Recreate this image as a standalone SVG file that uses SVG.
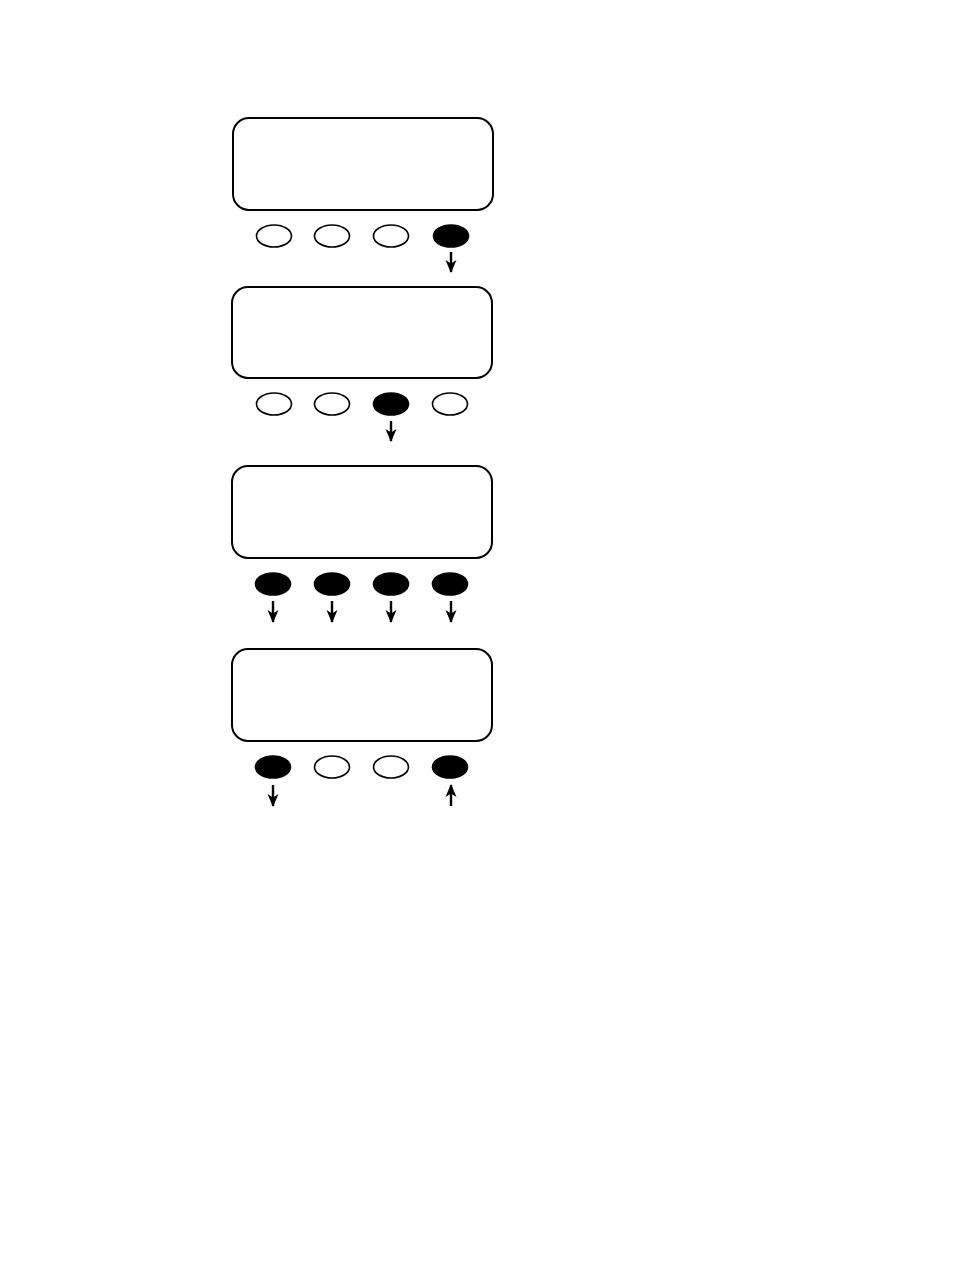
<svg xmlns="http://www.w3.org/2000/svg" width="954" height="1272" viewBox="0 0 954 1272">
<style>
.scr{fill:#fff;stroke:#000;stroke-width:2}
.off{fill:#fff;stroke:#000;stroke-width:1.6}
.on{fill:#000;stroke:#000;stroke-width:1.6}
.ar{stroke:#000;stroke-width:2.4;fill:none;marker-end:url(#ah)}
</style>
<defs>
<marker id="ah" viewBox="0 0 13 12" refX="12" refY="6" markerWidth="13" markerHeight="12" markerUnits="userSpaceOnUse" orient="auto">
<path d="M0,0.5 L13,6 L0,11.5 L3.5,6 Z" fill="#000"/>
</marker>
</defs>
<rect width="954" height="1272" fill="#fff"/>
<g id="panel1">
<rect class="scr" x="233" y="118" width="260" height="92" rx="16"/>
<ellipse class="off" cx="274" cy="236" rx="17.5" ry="11"/>
<ellipse class="off" cx="332" cy="236" rx="17.5" ry="11"/>
<ellipse class="off" cx="391" cy="236" rx="17.5" ry="11"/>
<ellipse class="on" cx="451" cy="236" rx="17.5" ry="11"/>
</g>
<g id="panel2">
<rect class="scr" x="232" y="287" width="260" height="91" rx="16"/>
<ellipse class="off" cx="274" cy="404" rx="17.5" ry="11"/>
<ellipse class="off" cx="332" cy="404" rx="17.5" ry="11"/>
<ellipse class="on" cx="391" cy="404" rx="17.5" ry="11"/>
<ellipse class="off" cx="450" cy="404" rx="17.5" ry="11"/>
</g>
<g id="panel3">
<rect class="scr" x="232" y="466" width="260" height="92" rx="16"/>
<ellipse class="on" cx="273" cy="584" rx="17.5" ry="11"/>
<ellipse class="on" cx="332" cy="584" rx="17.5" ry="11"/>
<ellipse class="on" cx="391" cy="584" rx="17.5" ry="11"/>
<ellipse class="on" cx="450" cy="584" rx="17.5" ry="11"/>
</g>
<g id="panel4">
<rect class="scr" x="232" y="649" width="260" height="92" rx="16"/>
<ellipse class="on" cx="273" cy="767" rx="17.5" ry="11"/>
<ellipse class="off" cx="332" cy="767" rx="17.5" ry="11"/>
<ellipse class="off" cx="391" cy="767" rx="17.5" ry="11"/>
<ellipse class="on" cx="450" cy="767" rx="17.5" ry="11"/>
</g>
<g id="connectors">
<line class="ar" x1="451" y1="252" x2="451" y2="272"/>
<line class="ar" x1="391" y1="421" x2="391" y2="441"/>
<line class="ar" x1="273" y1="601" x2="273" y2="622"/>
<line class="ar" x1="332" y1="601" x2="332" y2="622"/>
<line class="ar" x1="391" y1="601" x2="391" y2="622"/>
<line class="ar" x1="451" y1="601" x2="451" y2="622"/>
<line class="ar" x1="273" y1="785" x2="273" y2="806"/>
<line class="ar" x1="451" y1="806" x2="451" y2="785"/>
</g>
</svg>
